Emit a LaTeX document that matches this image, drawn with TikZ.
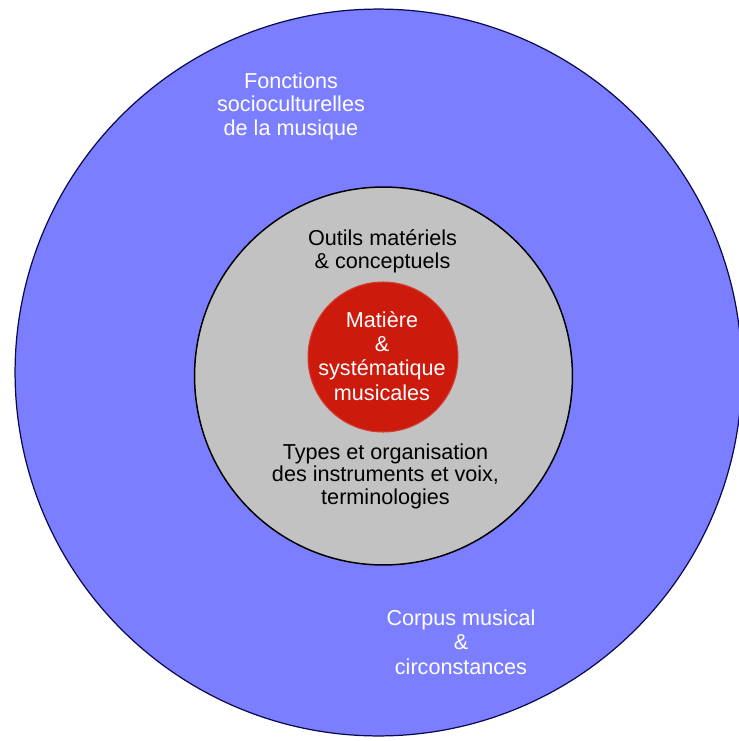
\documentclass[tikz,border=0pt]{standalone}
\usepackage{fontspec}
\setmainfont{Liberation Sans}
\usetikzlibrary{shapes, calc, positioning}

\definecolor{ringblue}{HTML}{7B7FFF}
\definecolor{ringgray}{HTML}{C2C2C2}
\definecolor{corered}{HTML}{CC1A0C}
\definecolor{navy}{HTML}{0A0A50}

\begin{document}
\begin{tikzpicture}[x=0.02cm, y=-0.02cm]
	\tikzstyle{ring} = [circle, inner sep=0pt]
	\tikzstyle{label} = [align=center, inner sep=0pt, anchor=base, font=\fontsize{12.3}{12.8}\selectfont]

	\useasboundingbox (0,0) rectangle (739,741);

	\path
		node[ring, fill=ringblue, draw=navy, line width=0.7pt, minimum size=14.54cm] (outer) at (378.5,372.5) {}
		node[ring, fill=ringgray, draw=black, line width=0.85pt, minimum size=7.56cm] (middle) at (383.5,376) {}
		node[ring, fill=corered, draw=corered!85!white, line width=0.6pt, minimum size=3.0cm] (core) at (383,357) {}
	;

	% texts (base = last line)
	\node[label, white, font=\fontsize{12.3}{13.1}\selectfont] (fonctions) at (291,135) {Fonctions\\socioculturelles\\de la musique};
	\node[label] (outils) at (382.5,268) {Outils matériels\\\& conceptuels};
	\node[label, white, font=\fontsize{12.3}{13.7}\selectfont] (matiere) at (382,400) {Matière\\\&\\systématique\\musicales};
	\node[label] (types) at (385.5,504) {Types et organisation\\des instruments et voix,\\terminologies};
	\node[label, white, font=\fontsize{12.3}{13.9}\selectfont] (corpus) at (461,674) {Corpus musical\\\&\\circonstances};
\end{tikzpicture}
\end{document}
